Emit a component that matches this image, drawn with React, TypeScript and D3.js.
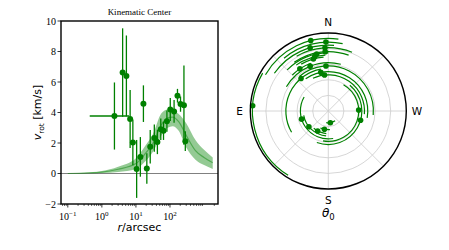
import React from "react";
import * as d3 from "d3";

// ---------- rotation-curve data (left panel) ----------
const bandR = [0.1, 0.3, 1, 3, 10, 18, 32, 56, 85, 120, 180, 300, 560, 1000, 1800];
const bandLow = [0, 0.01, 0.03, 0.1, 0.3, 0.75, 1.45, 2.5, 3.0, 3.1, 2.8, 1.7, 0.9, 0.55, 0.3];
const bandMid = [0, 0.03, 0.09, 0.28, 0.65, 1.25, 2.0, 3.2, 3.65, 3.7, 3.4, 2.5, 1.5, 1.05, 0.7];
const bandHigh = [0.01, 0.05, 0.16, 0.45, 1.0, 1.75, 2.6, 3.95, 4.2, 4.15, 3.9, 3.3, 2.2, 1.55, 1.05];

const pointR = [2.34, 4.07, 5.25, 6.76, 16.6, 8.13, 10.5, 13.5, 20.9, 26.3, 34.7, 42.7, 53.7, 64.6, 81.3, 102, 132, 166, 204, 257, 282];
const pointV = [3.77, 6.62, 6.4, 3.57, 4.58, 2.04, 0.3, 1.09, 0.33, 1.75, 2.32, 2.07, 2.9, 2.8, 3.43, 4.2, 4.07, 5.1, 4.55, 4.48, 2.12];
const pointVErr = [2.2, 2.9, 2.65, 1.9, 1.2, 1.5, 1.9, 1.3, 1.0, 1.1, 0.9, 0.8, 0.7, 0.6, 0.7, 0.75, 0.75, 0.45, 0.5, 2.6, 0.65];
const pointRLo = [0.44, null, null, null, null, null, null, null, null, null, null, null, null, null, null, null, null, null, null, null, null];
const pointRHi = [6.3, null, null, null, null, null, null, null, null, null, null, null, null, null, null, null, null, null, null, null, null];

const yTicks = [-2, 0, 2, 4, 6, 8, 10];
const xTickExps = [-1, 0, 1, 2];

// ---------- polar data (right panel) ----------
const polarTheta = [14, 2, 16, 3, 3, 11.5, 14, 16, 34, 22, 3, 11, 6, 40, 86, 272, 254, 190, 107, 129, 152, 168];
const polarRho = [4.65, 4.42, 4.22, 4.06, 3.81, 3.73, 3.59, 3.47, 3.26, 3.1, 2.89, 2.53, 2.32, 2.72, 4.86, 1.95, 2.15, 0.76, 1.79, 1.6, 1.45, 1.2];
const polarLo = [-8, -12, -5, -22, -20, 0, 3, 5, 20, -15, -95, -100, -95, 10, 60, 170, 160, 170, 60, 100, 140, 155];
const polarHi = [60, 40, 55, 30, 35, 45, 35, 30, 45, 60, 40, 35, 25, 120, 148, 330, 320, 215, 190, 175, 175, 185];
const compass = [
  { label: "N", theta: 0 },
  { label: "E", theta: 90 },
  { label: "S", theta: 180 },
  { label: "W", theta: 270 },
];
const rings = [1, 2, 3, 4];
const spokes = [0, 45, 90, 135, 180, 225, 270, 315];

const GREEN = "#008000";
const SERIF = "'Liberation Serif', 'Times New Roman', serif";
const SANS = "'DejaVu Sans', sans-serif";

export default function App() {
  const W = 449, H = 250;
  const x = d3.scaleLog().domain([Math.pow(10, -1.2), Math.pow(10, 3.41)]).range([61, 218]);
  const y = d3.scaleLinear().domain([-2, 10]).range([204, 21]);

  const bandIdx = bandR.map((_, i) => i);
  const area = d3
    .area<number>()
    .x((i) => x(bandR[i]))
    .y0((i) => y(bandLow[i]))
    .y1((i) => y(bandHigh[i]))
    .curve(d3.curveMonotoneX);
  const midLine = d3
    .line<number>()
    .x((i) => x(bandR[i]))
    .y((i) => y(bandMid[i]))
    .curve(d3.curveMonotoneX);

  const minorTicks: number[] = [];
  for (let e = -2; e <= 3; e++) {
    for (let k = 2; k <= 9; k++) {
      const v = k * Math.pow(10, e);
      if (v >= x.domain()[0] && v <= x.domain()[1]) minorTicks.push(v);
    }
  }

  // polar
  const cx = 328.3, cy = 111;
  const rad = d3.scaleLinear().domain([0, 5]).range([0, 78]);
  const toXY = (theta: number, rho: number) => {
    const t = (theta * Math.PI) / 180;
    return [cx - rad(rho) * Math.sin(t), cy - rad(rho) * Math.cos(t)];
  };
  const arcPath = (lo: number, hi: number, rho: number) => {
    const p = d3.path();
    const phi0 = ((-90 - lo) * Math.PI) / 180;
    const phi1 = ((-90 - hi) * Math.PI) / 180;
    const r = rad(rho);
    p.moveTo(cx + r * Math.cos(phi0), cy + r * Math.sin(phi0));
    p.arc(cx, cy, r, phi0, phi1, true);
    return p.toString();
  };

  return (
    <svg width={W} height={H} style={{ position: "absolute", left: 0, top: 0, background: "#fff" }}>
      {/* ---------- left panel ---------- */}
      <text x={139.5} y={15} textAnchor="middle" fontFamily={SERIF} fontSize={9}>
        Kinematic Center
      </text>
      <defs>
        <clipPath id="clipL">
          <rect x={61} y={21} width={157} height={183} />
        </clipPath>
      </defs>
      <g clipPath="url(#clipL)">
        <line x1={61} x2={218} y1={y(0)} y2={y(0)} stroke="#808080" strokeWidth={1.2} />
        <path d={area(bandIdx) || ""} fill="#008000" fillOpacity={0.42} stroke="none" />
        <path d={midLine(bandIdx) || ""} fill="none" stroke="#008000" strokeOpacity={0.45} strokeWidth={1.2} />
        {pointR.map((r, i) => (
          <g key={i}>
            <line x1={x(r)} x2={x(r)} y1={y(pointV[i] - pointVErr[i])} y2={y(pointV[i] + pointVErr[i])} stroke={GREEN} strokeWidth={1.3} />
            {pointRLo[i] != null && (
              <line x1={x(pointRLo[i] as number)} x2={x(pointRHi[i] as number)} y1={y(pointV[i])} y2={y(pointV[i])} stroke={GREEN} strokeWidth={1.3} />
            )}
            <circle cx={x(r)} cy={y(pointV[i])} r={3} fill={GREEN} />
          </g>
        ))}
      </g>
      <rect x={61} y={21} width={157} height={183} fill="none" stroke="#000" strokeWidth={1.4} />
      {yTicks.map((t) => (
        <g key={t}>
          <line x1={57.5} x2={61} y1={y(t)} y2={y(t)} stroke="#000" strokeWidth={0.8} />
          <text x={56} y={y(t) + 3.5} textAnchor="end" fontFamily={SERIF} fontSize={10}>
            {t < 0 ? "\u2212" + Math.abs(t) : t}
          </text>
        </g>
      ))}
      {minorTicks.map((t, i) => (
        <line key={"m" + i} x1={x(t)} x2={x(t)} y1={204} y2={206} stroke="#000" strokeWidth={0.6} />
      ))}
      {xTickExps.map((e) => {
        const xp = x(Math.pow(10, e));
        return (
          <g key={e}>
            <line x1={xp} x2={xp} y1={204} y2={207.5} stroke="#000" strokeWidth={0.8} />
            <text x={xp} y={220} textAnchor="middle" fontFamily={SERIF} fontSize={10}>
              10
              <tspan dy={-4} fontSize={7}>
                {e < 0 ? "\u2212" + Math.abs(e) : e}
              </tspan>
            </text>
          </g>
        );
      })}
      <text x={139.5} y={231} textAnchor="middle" fontFamily={SANS} fontSize={11}>
        <tspan fontStyle="italic">r</tspan>/arcsec
      </text>
      <text transform={`translate(41,112.5) rotate(-90)`} textAnchor="middle" fontFamily={SANS} fontSize={11}>
        <tspan fontStyle="italic">v</tspan>
        <tspan fontSize={7.5} dy={2.5}>rot</tspan>
        <tspan dy={-2.5}> [km/s]</tspan>
      </text>

      {/* ---------- right panel (polar) ---------- */}
      {rings.map((r) => (
        <circle key={r} cx={cx} cy={cy} r={rad(r)} fill="none" stroke="#cccccc" strokeWidth={0.8} />
      ))}
      {spokes.map((a) => {
        const [x2, y2] = toXY(a, 5);
        return <line key={a} x1={cx} y1={cy} x2={x2} y2={y2} stroke="#cccccc" strokeWidth={0.8} />;
      })}
      {polarTheta.map((t, i) => (
        <path key={"a" + i} d={arcPath(polarLo[i], polarHi[i], polarRho[i])} fill="none" stroke={GREEN} strokeWidth={1.2} />
      ))}
      {polarTheta.map((t, i) => {
        const [px, py] = toXY(t, polarRho[i]);
        return <circle key={"p" + i} cx={px} cy={py} r={2.8} fill={GREEN} />;
      })}
      <circle cx={cx} cy={cy} r={rad(5)} fill="none" stroke="#000" strokeWidth={1.4} />
      {compass.map((c) => {
        const [px, py] = toXY(c.theta, 5.68);
        return (
          <text key={c.label} x={px} y={py + 4} textAnchor="middle" fontFamily={SANS} fontSize={10.5}>
            {c.label}
          </text>
        );
      })}
      <text x={cx} y={217} textAnchor="middle" fontFamily={SANS} fontSize={12}>
        <tspan fontStyle="italic">θ</tspan>
        <tspan fontSize={8.5} dy={2.5}>0</tspan>
      </text>
    </svg>
  );
}
